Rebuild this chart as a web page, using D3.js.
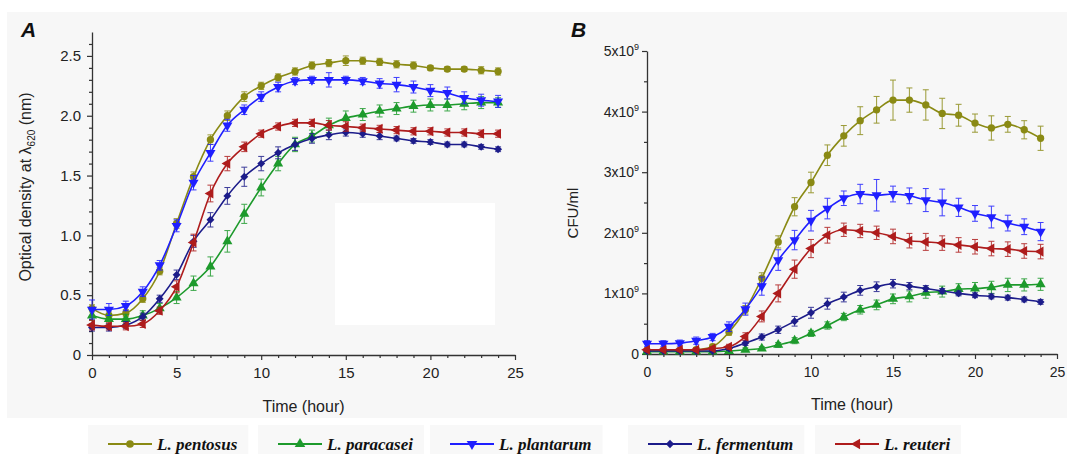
<!DOCTYPE html>
<html><head><meta charset="utf-8">
<script src="https://cdn.jsdelivr.net/npm/d3@7"></script>
<style>body{margin:0;background:#fff}svg{display:block}</style></head>
<body><svg id="c" width="1067" height="454"></svg>
<script>
// ---------- data ----------
const hours = [0,1,2,3,4,5,6,7,8,9,10,11,12,13,14,15,16,17,18,19,20,21,22,23,24];
const seriesNames = ["L. pentosus","L. paracasei","L. plantarum","L. fermentum","L. reuteri"];
const seriesColors = ["#8a8a14","#1d9a2c","#1f1fff","#1c1c8a","#ae1c1c"];

// Panel A: optical density
const odPentosus  = [0.39,0.33,0.35,0.47,0.70,1.10,1.49,1.80,2.00,2.16,2.25,2.32,2.37,2.42,2.44,2.46,2.46,2.45,2.43,2.42,2.40,2.39,2.39,2.38,2.37];
const odParacasei = [0.33,0.30,0.30,0.33,0.39,0.48,0.60,0.74,0.95,1.18,1.40,1.60,1.76,1.83,1.92,1.98,2.01,2.04,2.06,2.08,2.09,2.09,2.10,2.11,2.11];
const odPlantarum = [0.38,0.38,0.41,0.53,0.75,1.08,1.44,1.69,1.92,2.05,2.16,2.24,2.29,2.30,2.30,2.30,2.29,2.27,2.26,2.24,2.21,2.19,2.15,2.13,2.12];
const odFermentum = [0.23,0.23,0.25,0.32,0.47,0.67,0.95,1.13,1.33,1.49,1.60,1.69,1.76,1.81,1.84,1.86,1.85,1.83,1.81,1.79,1.78,1.76,1.76,1.74,1.72];
const odReuteri   = [0.25,0.24,0.24,0.26,0.37,0.57,0.94,1.35,1.60,1.74,1.85,1.91,1.94,1.94,1.92,1.91,1.90,1.89,1.88,1.87,1.87,1.86,1.86,1.85,1.85];
const errOdPentosus  = [0.03,0.03,0.03,0.03,0.03,0.04,0.04,0.04,0.04,0.04,0.03,0.03,0.03,0.03,0.03,0.04,0.03,0.03,0.03,0.03,0.02,0.02,0.02,0.03,0.03];
const errOdParacasei = [0.04,0.04,0.04,0.04,0.04,0.05,0.06,0.08,0.09,0.08,0.07,0.06,0.06,0.05,0.06,0.06,0.05,0.05,0.05,0.05,0.05,0.05,0.05,0.05,0.04];
const errOdPlantarum = [0.08,0.05,0.04,0.04,0.04,0.05,0.06,0.07,0.05,0.04,0.04,0.04,0.03,0.03,0.06,0.03,0.03,0.04,0.06,0.05,0.05,0.05,0.05,0.05,0.05];
const errOdFermentum = [0.03,0.03,0.03,0.03,0.03,0.04,0.05,0.06,0.07,0.08,0.06,0.05,0.05,0.04,0.04,0.03,0.03,0.03,0.02,0.02,0.02,0.02,0.02,0.02,0.02];
const errOdReuteri   = [0.04,0.03,0.03,0.03,0.03,0.05,0.07,0.07,0.06,0.04,0.03,0.03,0.03,0.03,0.04,0.04,0.03,0.03,0.03,0.03,0.03,0.03,0.03,0.03,0.03];

// Panel B: CFU/ml (in units of 10^9)
const cfuPentosus  = [0.06,0.06,0.06,0.07,0.12,0.36,0.73,1.25,1.85,2.43,2.83,3.28,3.60,3.85,4.03,4.19,4.19,4.11,3.97,3.94,3.81,3.73,3.79,3.70,3.56];
const cfuParacasei = [0.04,0.04,0.04,0.04,0.04,0.05,0.07,0.09,0.15,0.22,0.34,0.47,0.61,0.73,0.81,0.91,0.95,1.01,1.03,1.07,1.08,1.10,1.14,1.14,1.15];
const cfuPlantarum = [0.17,0.17,0.18,0.22,0.28,0.45,0.74,1.12,1.55,1.88,2.20,2.40,2.57,2.64,2.62,2.64,2.61,2.54,2.50,2.42,2.32,2.26,2.16,2.10,2.02];
const cfuFermentum = [0.05,0.05,0.05,0.05,0.05,0.09,0.18,0.28,0.40,0.54,0.68,0.83,0.94,1.05,1.11,1.16,1.12,1.08,1.04,1.00,0.97,0.95,0.93,0.90,0.86];
const cfuReuteri   = [0.07,0.07,0.07,0.07,0.09,0.12,0.29,0.62,1.00,1.40,1.74,1.96,2.05,2.03,2.00,1.94,1.87,1.85,1.83,1.80,1.77,1.74,1.73,1.70,1.69];
const errCfuPentosus  = [0.03,0.03,0.03,0.03,0.04,0.05,0.07,0.09,0.10,0.15,0.17,0.17,0.17,0.23,0.22,0.33,0.20,0.25,0.25,0.18,0.15,0.20,0.13,0.15,0.20];
const errCfuParacasei = [0.02,0.02,0.02,0.02,0.02,0.02,0.03,0.03,0.04,0.05,0.05,0.06,0.06,0.07,0.08,0.08,0.09,0.09,0.09,0.09,0.10,0.10,0.11,0.10,0.10];
const errCfuPlantarum = [0.05,0.05,0.05,0.06,0.06,0.08,0.10,0.15,0.17,0.16,0.17,0.17,0.12,0.16,0.26,0.13,0.13,0.19,0.22,0.15,0.13,0.18,0.13,0.13,0.15];
const errCfuFermentum = [0.02,0.02,0.02,0.02,0.02,0.03,0.04,0.05,0.06,0.08,0.09,0.09,0.08,0.08,0.08,0.07,0.06,0.05,0.04,0.04,0.04,0.04,0.04,0.04,0.04];
const errCfuReuteri   = [0.03,0.03,0.03,0.03,0.03,0.04,0.06,0.09,0.14,0.15,0.15,0.13,0.11,0.11,0.11,0.12,0.12,0.14,0.12,0.12,0.12,0.12,0.12,0.12,0.12];

const xTicks = [0,5,10,15,20,25];
const odTicks = [0,0.5,1.0,1.5,2.0,2.5];
const cfuTicks = [0,1,2,3,4,5];

// ---------- drawing ----------
const svg = d3.select("#c");
const symbolDefs = [
  {type:d3.symbolCircle, rot:0, size:42},
  {type:d3.symbolTriangle, rot:0, size:44},
  {type:d3.symbolTriangle, rot:180, size:44},
  {type:d3.symbolDiamond2, rot:0, size:40},
  {type:d3.symbolTriangle, rot:-90, size:44}
];

// background
svg.append("rect").attr("x",7).attr("y",12).attr("width",1060).attr("height",406).attr("fill","#f7f7f7");
svg.append("rect").attr("x",335).attr("y",203).attr("width",160).attr("height",122).attr("fill","#ffffff");

function panel(opts){
  const g = svg.append("g");
  const x = d3.scaleLinear().domain([0,25]).range([opts.x0,opts.x1]);
  const y = d3.scaleLinear().domain(opts.yDomain).range([opts.y0,opts.y1]);
  const axisColor = "#333";
  g.append("g").attr("transform",`translate(0,${opts.y0})`)
    .call(d3.axisBottom(x).tickValues(xTicks).tickSize(5).tickSizeOuter(0).tickPadding(opts.xPad).tickFormat(d3.format("d")));
  g.append("g").attr("transform",`translate(0,${opts.y0})`)
    .call(d3.axisBottom(x).tickValues(d3.range(0,26).filter(d=>d%5)).tickSize(3).tickSizeOuter(0).tickFormat(""))
    .select(".domain").remove();
  const ya = g.append("g").attr("transform",`translate(${opts.x0},0)`)
    .call(d3.axisLeft(y).tickValues(opts.yTicks).tickSize(5).tickSizeOuter(0).tickPadding(opts.yPad).tickFormat(opts.yFmt));
  g.append("g").attr("transform",`translate(${opts.x0},0)`)
    .call(d3.axisLeft(y).tickValues(opts.yMinor).tickSize(3).tickSizeOuter(0).tickFormat(""))
    .select(".domain").remove();
  g.selectAll(".domain").attr("stroke",axisColor).attr("stroke-width",1.3);
  g.selectAll(".tick line").attr("stroke",axisColor).attr("stroke-width",1.2);
  g.selectAll(".tick text").attr("fill","#222").attr("font-family","Liberation Sans, Arial, sans-serif").attr("font-size",opts.tickFont);
  if(opts.sup){
    ya.selectAll(".tick text").each(function(d){
      const t=d3.select(this); t.text(null);
      if(d===0){ t.text("0"); }
      else { t.append("tspan").text(d+"x10"); t.append("tspan").attr("dy",-6).attr("font-size",9).text("9"); }
    });
  }
  opts.series.forEach((s,i)=>{
    const col = seriesColors[i];
    const pts = hours.map((h,k)=>({h, v:s.v[k], e:s.e[k]}));
    g.append("path").datum(pts)
      .attr("d", d3.line().x(d=>x(d.h)).y(d=>y(d.v)).curve(d3.curveMonotoneX))
      .attr("fill","none").attr("stroke",col).attr("stroke-width",1.6);
    const eb = g.append("g").attr("stroke",col).attr("stroke-width",1).attr("opacity",0.85);
    pts.forEach(d=>{
      const xx=x(d.h), ya1=y(d.v+d.e), ya2=y(d.v-d.e);
      eb.append("line").attr("x1",xx).attr("x2",xx).attr("y1",ya1).attr("y2",ya2);
      eb.append("line").attr("x1",xx-3).attr("x2",xx+3).attr("y1",ya1).attr("y2",ya1);
      eb.append("line").attr("x1",xx-3).attr("x2",xx+3).attr("y1",ya2).attr("y2",ya2);
    });
    const sd = symbolDefs[i];
    g.append("g").selectAll("path").data(pts).join("path")
      .attr("d", d3.symbol().type(sd.type).size(sd.size))
      .attr("transform", d=>`translate(${x(d.h)},${y(d.v)}) rotate(${sd.rot})`)
      .attr("fill",col);
  });
  g.append("text").attr("x",(opts.x0+opts.x1)/2 + opts.xtOff).attr("y",opts.xtY).attr("text-anchor","middle")
    .attr("font-family","Liberation Sans, Arial, sans-serif").attr("font-size",16).attr("fill","#222").text("Time (hour)");
  g.append("text").attr("x",opts.letterX).attr("y",37).attr("font-family","Liberation Sans, Arial, sans-serif")
    .attr("font-size",21).attr("font-weight","bold").attr("font-style","italic").attr("fill","#111").text(opts.letter);
  return g;
}

const gA = panel({
  x0:92, x1:515, y0:355, y1:32, yDomain:[0,2.7], yTicks:odTicks, yMinor:d3.range(1,27).map(d=>d/10).filter(d=>Math.round(d*10)%5!==0),
  yFmt: d=> d===0 ? "0" : d3.format(".1f")(d), yPad:6, xPad:7, tickFont:15, xtOff:0, xtY:412,
  letter:"A", letterX:21,
  series:[
    {v:odPentosus,e:errOdPentosus},{v:odParacasei,e:errOdParacasei},{v:odPlantarum,e:errOdPlantarum},
    {v:odFermentum,e:errOdFermentum},{v:odReuteri,e:errOdReuteri}]
});
const ytA = gA.append("text").attr("transform","translate(31,187) rotate(-90)").attr("text-anchor","middle")
  .attr("font-family","Liberation Sans, Arial, sans-serif").attr("font-size",16).attr("fill","#222");
ytA.append("tspan").text("Optical density at \u03bb");
ytA.append("tspan").attr("font-size",10).attr("dy",4).text("620");
ytA.append("tspan").attr("dy",-4).text(" (nm)");

const gB = panel({
  x0:647, x1:1057, y0:354, y1:51, yDomain:[0,5], yTicks:cfuTicks, yMinor:[0.5,1.5,2.5,3.5,4.5],
  yFmt: d=>String(d), yPad:3, xPad:8, tickFont:14, sup:true, xtOff:0, xtY:410,
  letter:"B", letterX:571,
  series:[
    {v:cfuPentosus,e:errCfuPentosus},{v:cfuParacasei,e:errCfuParacasei},{v:cfuPlantarum,e:errCfuPlantarum},
    {v:cfuFermentum,e:errCfuFermentum},{v:cfuReuteri,e:errCfuReuteri}]
});
gB.append("text").attr("transform","translate(578,213) rotate(-90)").attr("text-anchor","middle")
  .attr("font-family","Liberation Sans, Arial, sans-serif").attr("font-size",15).attr("fill","#222").text("CFU/ml");

// legend
const legendX = [108,278,450,648,835];
const lg = svg.append("g");
seriesNames.forEach((name,i)=>{
  const lx = legendX[i], ly = 444, col = seriesColors[i];
  const item = lg.append("g");
  const txt = item.append("text").attr("x",lx+49).attr("y",ly+6).attr("font-family","Liberation Serif, Times New Roman, serif")
    .attr("font-size",17).attr("font-weight","bold").attr("font-style","italic").attr("fill","#111").text(name);
  const w = txt.node().getComputedTextLength();
  item.insert("rect","text").attr("x",lx-20).attr("y",425).attr("width",w+80).attr("height",29).attr("fill","#f8f8f8");
  item.append("line").attr("x1",lx).attr("x2",lx+44).attr("y1",ly).attr("y2",ly).attr("stroke",col).attr("stroke-width",2);
  const sd = symbolDefs[i];
  item.append("path").attr("d",d3.symbol().type(sd.type).size(sd.size*1.1)).attr("transform",`translate(${lx+22},${ly}) rotate(${sd.rot})`).attr("fill",col);
});
</script></body></html>
